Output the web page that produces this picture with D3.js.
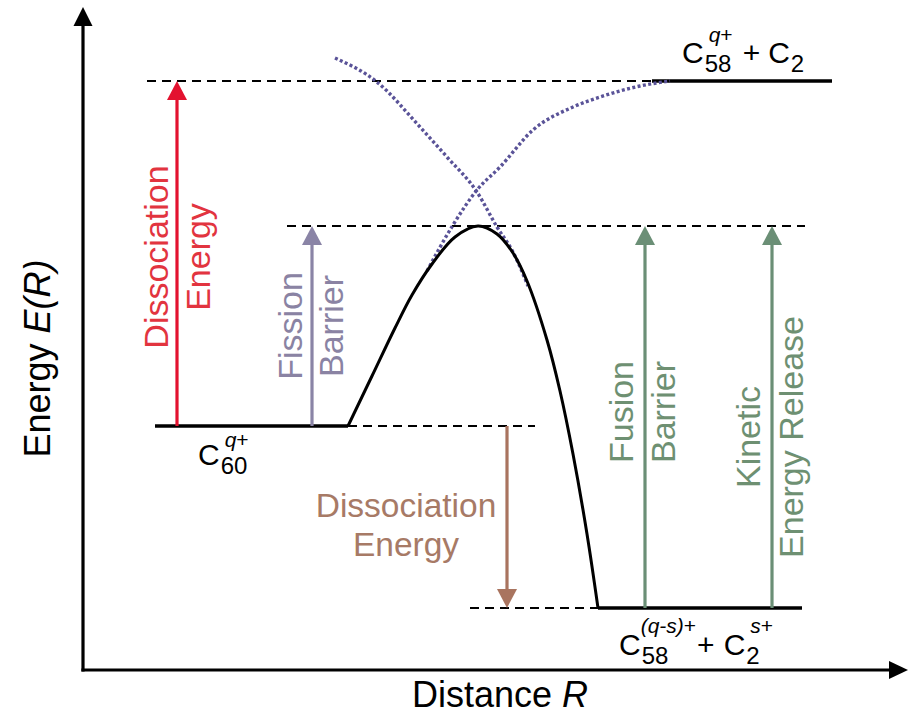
<!DOCTYPE html>
<html>
<head>
<meta charset="utf-8">
<script src="https://cdn.jsdelivr.net/npm/d3@7"></script>
<style>
  html, body { margin: 0; padding: 0; background: #fff; }
  svg { display: block; font-family: "Liberation Sans", Arial, Helvetica, sans-serif; }
</style>
</head>
<body>
<svg id="chart" width="912" height="715"></svg>
<script>
// ---- Energy levels (arbitrary energy units vs. distance R) ----
const levelEnergy = [0, 10, 17.25, -9.1];               // C60, barrier top, C58 + C2 asymptote, fragments
const levelSolid  = [[3.6, 13.25], null, [28.45, 37.45], [25.75, 35.95]];
const levelDashed = [[13.25, 22.6], [10.2, 36.1], [3.2, 28.45], [19.35, 25.75]];

// ---- Potential energy curve E(R) ----
const curveR = [13.25, 14.45, 15.6, 16.45, 17.45, 18.6, 19.75, 20.7, 21.5, 22.2, 23.2, 23.85, 24.5, 25.2, 25.75];
const curveE = [0, 2.5, 4.9, 6.55, 8.1, 9.45, 10, 9.6, 8.65, 7.25, 4.3, 1.75, -1.4, -5.4, -9.1];

// ---- Diabatic curves (dotted) ----
const repulsiveR = [12.6, 14.7, 16.85, 18.2, 19.7, 20.7, 21.5, 22.25];
const repulsiveE = [18.4, 17.2, 14.95, 13.45, 11.7, 9.95, 8.7, 7.0];
const attractiveR = [17.2, 18.5, 19.7, 20.85, 22.5, 24.5, 25.85, 27.85, 29.35];
const attractiveE = [7.75, 10.05, 11.8, 12.95, 14.8, 15.95, 16.45, 17.0, 17.25];

// ---- Energy arrows ----
const arrowNames = ["Dissociation Energy", "Fission Barrier", "Dissociation Energy (down)", "Fusion Barrier", "Kinetic Energy Release"];
const arrowR    = [4.7, 11.45, 21.2, 28.1, 34.45];
const arrowFrom = [0, 0, 0, -9.1, -9.1];
const arrowTo   = [17.25, 10, -9.1, 10, 10];

// ---- Axis extents ----
const rDomain = [0, 41.25];
const eDomain = [-12.2, 21];

const svg = d3.select("#chart");
const x = d3.scaleLinear().domain(rDomain).range([83, 908]);
const y = d3.scaleLinear().domain(eDomain).range([670, 6]);

const INK = "#000";
const RED = "#e3122f", RED_TXT = "#e2343f";
const PURPLE = "#8a84a6", PURPLE_TXT = "#8a83a3";
const BROWN = "#a9745f", BROWN_TXT = "#a77a66";
const GREEN = "#6b8f76", GREEN_TXT = "#6e9072";
const DOTS = "#5a5398";
const arrowColor = [RED, PURPLE, BROWN, GREEN, GREEN];

// ---- Axes with arrowheads ----
const x0 = x(rDomain[0]), y0 = y(eDomain[0]);
const yTip = y(20.95), xTip = x(rDomain[1]);
const axes = svg.append("g");
axes.append("line").attr("x1", x0).attr("y1", y0).attr("x2", x0).attr("y2", yTip + 16)
  .attr("stroke", INK).attr("stroke-width", 3.2).attr("stroke-linecap", "square");
axes.append("line").attr("x1", x0).attr("y1", y0).attr("x2", xTip - 16).attr("y2", y0)
  .attr("stroke", INK).attr("stroke-width", 3.2).attr("stroke-linecap", "square");
axes.append("path").attr("d", `M${x0},${yTip} L${x0 - 9.5},${yTip + 19} L${x0 + 9.5},${yTip + 19} Z`).attr("fill", INK);
axes.append("path").attr("d", `M${xTip},${y0} L${xTip - 19},${y0 - 9} L${xTip - 19},${y0 + 9} Z`).attr("fill", INK);

// Axis titles
svg.append("text")
  .attr("transform", `translate(50,${(y(eDomain[0]) + yTip) / 2 + 20}) rotate(-90)`)
  .attr("text-anchor", "middle").style("font-size", "36px").attr("fill", INK)
  .call(t => {
    t.append("tspan").text("Energy ");
    t.append("tspan").style("font-style", "italic").text("E(R)");
  });
svg.append("text")
  .attr("x", 500).attr("y", 707)
  .attr("text-anchor", "middle").style("font-size", "36px").attr("fill", INK)
  .call(t => {
    t.append("tspan").text("Distance ");
    t.append("tspan").style("font-style", "italic").text("R");
  });

// ---- Level lines ----
const levels = svg.append("g");
levelEnergy.forEach((e, i) => {
  const d = levelDashed[i];
  levels.append("line")
    .attr("x1", x(d[0])).attr("x2", x(d[1])).attr("y1", y(e)).attr("y2", y(e))
    .attr("stroke", INK).attr("stroke-width", 2.2).attr("stroke-dasharray", "9,6");
});

// ---- Dotted diabatic curves ----
const line = d3.line().x(d => x(d[0])).y(d => y(d[1])).curve(d3.curveMonotoneX);
[d3.zip(repulsiveR, repulsiveE), d3.zip(attractiveR, attractiveE)].forEach(pts => {
  svg.append("path").datum(pts).attr("d", line)
    .attr("fill", "none").attr("stroke", DOTS).attr("stroke-width", 3.4).attr("stroke-dasharray", "3,2.4");
});

// ---- Solid levels and the potential curve ----
levelEnergy.forEach((e, i) => {
  const s = levelSolid[i];
  if (!s) return;
  levels.append("line")
    .attr("x1", x(s[0])).attr("x2", x(s[1])).attr("y1", y(e)).attr("y2", y(e))
    .attr("stroke", INK).attr("stroke-width", 3.6);
});
const smooth = d3.line().x(d => x(d[0])).y(d => y(d[1])).curve(d3.curveCatmullRom.alpha(0.5));
svg.append("path").datum(d3.zip(curveR, curveE)).attr("d", smooth)
  .attr("fill", "none").attr("stroke", INK).attr("stroke-width", 3).attr("stroke-linejoin", "round");

// ---- Arrows ----
const HEAD_L = 19, HEAD_W = 10;
arrowR.forEach((r, i) => {
  const ax = x(r), ya = y(arrowFrom[i]), yb = y(arrowTo[i]);
  const dir = yb < ya ? 1 : -1;              // +1 arrow points up
  const g = svg.append("g");
  g.append("line").attr("x1", ax).attr("x2", ax).attr("y1", ya).attr("y2", yb + dir * (HEAD_L - 2))
    .attr("stroke", arrowColor[i]).attr("stroke-width", 3.2);
  g.append("path")
    .attr("d", `M${ax},${yb} L${ax - HEAD_W},${yb + dir * HEAD_L} L${ax + HEAD_W},${yb + dir * HEAD_L} Z`)
    .attr("fill", arrowColor[i]);
});

// ---- Vertical arrow labels ----
function verticalLabel(lines, ax, offsets, cy, color) {
  lines.forEach((txt, k) => {
    svg.append("text")
      .attr("transform", `translate(${ax + offsets[k]},${cy}) rotate(-90)`)
      .attr("text-anchor", "middle").style("font-size", "34px").attr("fill", color).text(txt);
  });
}
verticalLabel(["Dissociation", "Energy"], x(arrowR[0]), [-9, 33], 257, RED_TXT);
verticalLabel(["Fission", "Barrier"], x(arrowR[1]), [-10, 31], 326, PURPLE_TXT);
verticalLabel(["Fusion", "Barrier"], x(arrowR[3]), [-12, 30], 412, GREEN_TXT);
verticalLabel(["Kinetic", "Energy Release"], x(arrowR[4]), [-12, 31], 437, GREEN_TXT);

// Horizontal label beside the downward arrow
svg.append("text").attr("x", 406).attr("y", 517).attr("text-anchor", "middle")
  .style("font-size", "33.5px").attr("fill", BROWN_TXT).text("Dissociation");
svg.append("text").attr("x", 406).attr("y", 556).attr("text-anchor", "middle")
  .style("font-size", "33.5px").attr("fill", BROWN_TXT).text("Energy");

// ---- Species labels with sub/superscripts ----
function species(px, py, parts, supDy) {
  const g = svg.append("g").attr("fill", INK);
  let cx = px;
  parts.forEach(p => {
    cx += p.gap || 0;
    const base = g.append("text").attr("x", cx).attr("y", py).style("font-size", "30px").text(p.t);
    cx += base.node().getComputedTextLength();
    let w = 0;
    if (p.sub) {
      const s = g.append("text").attr("x", cx + 1).attr("y", py + 9).style("font-size", "24px").text(p.sub);
      w = Math.max(w, s.node().getComputedTextLength() + 1);
    }
    if (p.sup) {
      const s = g.append("text").attr("x", cx + (p.supDx || 0)).attr("y", py + supDy).style("font-size", "21px");
      p.sup.forEach(([txt, it]) => s.append("tspan").style("font-style", it ? "italic" : "normal").text(txt));
      w = Math.max(w, s.node().getComputedTextLength() + (p.supDx || 0));
    }
    cx += w;
  });
}
species(x(5.75), y(-1.95), [{ t: "C", sub: "60", sup: [["q", true], ["+", false]], supDx: 5 }], -18);
species(x(29.95), y(18.15), [
  { t: "C", sub: "58", sup: [["q", true], ["+", false]], supDx: 5 },
  { t: "+", gap: 10 },
  { t: "C", sub: "2", gap: 8 }
], -21);
species(x(26.8), y(-11.45), [
  { t: "C", sub: "58", sup: [["(q-s)", true], ["+", false]], supDx: 0 },
  { t: "+", gap: 1 },
  { t: "C", sub: "2", sup: [["s", true], ["+", false]], supDx: 5, gap: 9 }
], -22);
</script>
</body>
</html>
